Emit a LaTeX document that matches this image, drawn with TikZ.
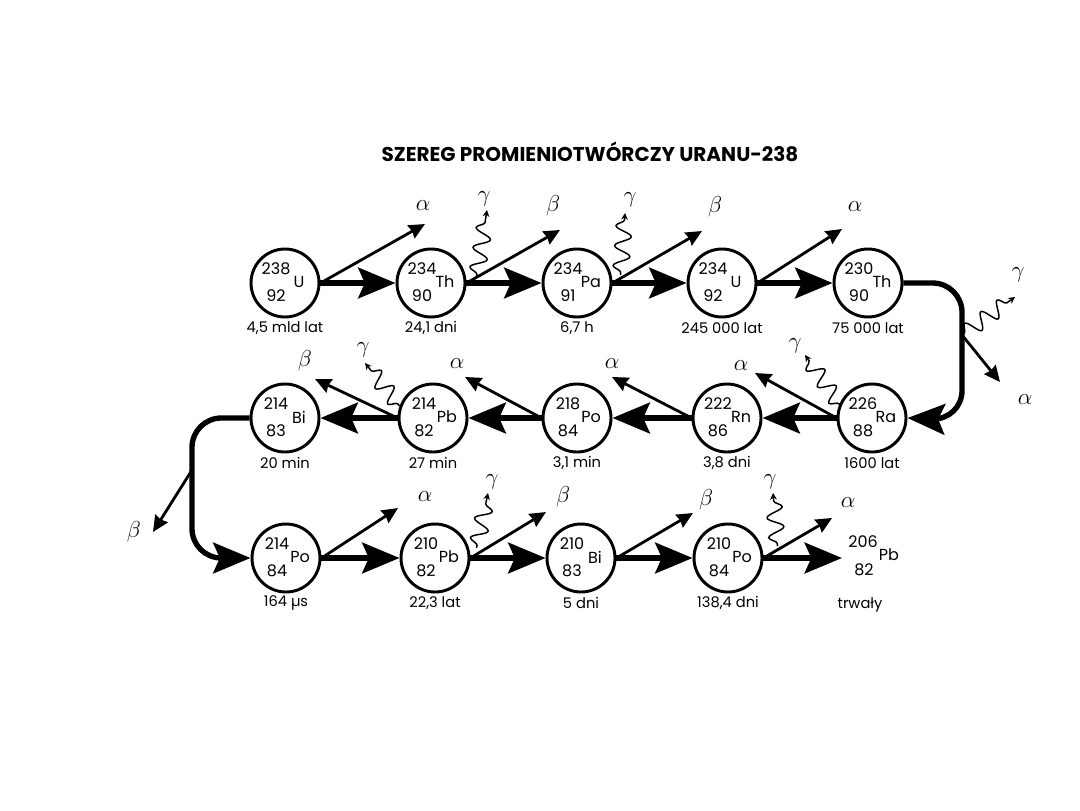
\documentclass[tikz,border=0pt]{standalone}
\usepackage{fontspec}
\setmainfont{Poppins}
\usetikzlibrary{arrows.meta,decorations.pathmorphing}
\newcommand\mynuc[7]{%
  \node[nuc] (#1) at (#2,#3) {};
  \node[num] at ([shift={(-9,-14)}]#1.center) {#4};
  \node[num] at ([shift={(14,-1)}]#1.center) {#5};
  \node[num] at ([shift={(-9,13)}]#1.center) {#6};
  \node[lab] at ([shift={(0,45)}]#1.center) {#7};
}
\begin{document}
\begin{tikzpicture}[x=0.75pt,y=-0.75pt,
  nuc/.style={circle,draw,line width=2.2pt,minimum size=51pt,inner sep=0pt},
  num/.style={font=\fontsize{12}{14}\selectfont,inner sep=0pt},
  lab/.style={font=\fontsize{11}{13}\selectfont,inner sep=0pt},
  ray/.style={font=\fontsize{17}{19}\selectfont,inner sep=0pt},
  main/.style={line width=4pt,-{Stealth[length=28pt,width=23pt,inset=5pt]}},
  emit/.style={line width=2.1pt,-{Stealth[length=12pt,width=11pt,inset=1pt]}},
  wave/.style={line width=1.1pt,decorate,decoration={snake,amplitude=6pt,segment length=15pt,pre length=2pt,post length=5pt},-{Stealth[length=5pt,width=5pt]}},
  loopline/.style={line width=4pt,rounded corners=22pt,-{Stealth[length=28pt,width=23pt,inset=5pt]}}
]
\useasboundingbox (0,0) rectangle (1080,810);
\fill[white] (0,0) rectangle (1080,810);

\node[font=\bfseries\fontsize{15}{17}\selectfont] (title) at (590,152) {SZEREG PROMIENIOTWÓRCZY URANU-238};

% row 1
\mynuc{U238}{285}{283}{238}{U}{92}{4,5 mld lat}
\mynuc{Th234}{431}{283}{234}{Th}{90}{24,1 dni}
\mynuc{Pa234}{577}{283}{234}{Pa}{91}{6,7 h}
\mynuc{U234}{722}{283}{234}{U}{92}{245 000 lat}
\mynuc{Th230}{868}{283}{230}{Th}{90}{75 000 lat}
% row 2
\mynuc{Ra226}{872}{418}{226}{Ra}{88}{1600 lat}
\mynuc{Rn222}{727}{418}{222}{Rn}{86}{3,8 dni}
\mynuc{Po218}{577}{418}{218}{Po}{84}{3,1 min}
\mynuc{Pb214}{433}{418}{214}{Pb}{82}{27 min}
\mynuc{Bi214}{285}{418}{214}{Bi}{83}{20 min}
% row 3
\mynuc{Po214}{286}{558}{214}{Po}{84}{164 µs}
\mynuc{Pb210}{435}{558}{210}{Pb}{82}{22,3 lat}
\mynuc{Bi210}{581}{558}{210}{Bi}{83}{5 dni}
\mynuc{Po210}{728}{558}{210}{Po}{84}{138,4 dni}
% final
\coordinate (Pb206) at (842,558);
\node[num] at (863,542) {206};
\node[num] at (889,555) {Pb};
\node[num] at (864,570) {82};
\node[lab] at (860,605) {trwały};

% main arrows
\draw[main] (U238.east) -- (Th234.west);
\draw[main] (Th234.east) -- (Pa234.west);
\draw[main] (Pa234.east) -- (U234.west);
\draw[main] (U234.east) -- (Th230.west);
\coordinate (tr1) at (962,283);
\coordinate (tr2) at (962,420);
\coordinate (br) at (962,335);
\draw[loopline] (Th230.east) -- (tr1) -- (tr2) -- (Ra226.east);
\draw[main] (Ra226.west) -- (Rn222.east);
\draw[main] (Rn222.west) -- (Po218.east);
\draw[main] (Po218.west) -- (Pb214.east);
\draw[main] (Pb214.west) -- (Bi214.east);
\coordinate (tl1) at (192,418);
\coordinate (tl2) at (192,558);
\coordinate (bl) at (192,470);
\draw[loopline] (Bi214.west) -- (tl1) -- (tl2) -- (Po214.west);
\draw[main] (Po214.east) -- (Pb210.west);
\draw[main] (Pb210.east) -- (Bi210.west);
\draw[main] (Bi210.east) -- (Po210.west);
\draw[main] (Po210.east) -- (Pb206);

% emissions row 1
\coordinate (e1) at (425,224); \draw[emit] (U238.east) -- (e1); \node[ray] at (423,206) {$\alpha$};
\coordinate (e2) at (560,230); \draw[emit] (Th234.east) -- (e2); \node[ray] at (553,206) {$\beta$};
\coordinate (e3) at (702,231); \draw[emit] (Pa234.east) -- (e3); \node[ray] at (715,207) {$\beta$};
\coordinate (e4) at (842,229); \draw[emit] (U234.east) -- (e4); \node[ray] at (855,207) {$\alpha$};
\coordinate (g1) at (487,210); \draw[wave] ([shift={(10,-6)}]Th234.east) -- (g1); \node[ray] at (484,199) {$\gamma$};
\coordinate (g2) at (625,213); \draw[wave] ([shift={(8,-8)}]Pa234.east) -- (g2); \node[ray] at (630,200) {$\gamma$};
\coordinate (e5) at (1000,382); \draw[emit] (br) -- (e5); \node[ray] at (1025,400) {$\alpha$};
\coordinate (g3) at (1015,297); \draw[wave] (br) -- (g3); \node[ray] at (1018,275) {$\gamma$};
% emissions row 2
\coordinate (e6) at (755,373); \draw[emit] (Ra226.west) -- (e6); \node[ray] at (741,366) {$\alpha$};
\coordinate (g4) at (805,355); \draw[wave] ([shift={(4,-12)}]Ra226.west) -- (g4); \node[ray] at (795,346) {$\gamma$};
\coordinate (e7) at (612,377); \draw[emit] (Rn222.west) -- (e7); \node[ray] at (612,364) {$\alpha$};
\coordinate (e8) at (465,377); \draw[emit] (Po218.west) -- (e8); \node[ray] at (457,364) {$\alpha$};
\coordinate (e9) at (315,379); \draw[emit] (Pb214.west) -- (e9); \node[ray] at (305,361) {$\beta$};
\coordinate (g5) at (365,363); \draw[wave] ([shift={(2,-12)}]Pb214.west) -- (g5); \node[ray] at (363,350) {$\gamma$};
\coordinate (e10) at (153,532); \draw[emit] (bl) -- (e10); \node[ray] at (134,532) {$\beta$};
% emissions row 3
\coordinate (e11) at (398,508); \draw[emit] (Po214.east) -- (e11); \node[ray] at (425,497) {$\alpha$};
\coordinate (e12) at (546,512); \draw[emit] (Pb210.east) -- (e12); \node[ray] at (563,497) {$\beta$};
\coordinate (g6) at (488,493); \draw[wave] ([shift={(6,-10)}]Pb210.east) -- (g6); \node[ray] at (492,482) {$\gamma$};
\coordinate (e13) at (693,513); \draw[emit] (Bi210.east) -- (e13); \node[ray] at (706,500) {$\beta$};
\coordinate (e14) at (832,518); \draw[emit] (Po210.east) -- (e14); \node[ray] at (848,503) {$\alpha$};
\coordinate (g7) at (773,493); \draw[wave] ([shift={(14,-12)}]Po210.east) -- (g7); \node[ray] at (770,482) {$\gamma$};
\end{tikzpicture}
\end{document}
